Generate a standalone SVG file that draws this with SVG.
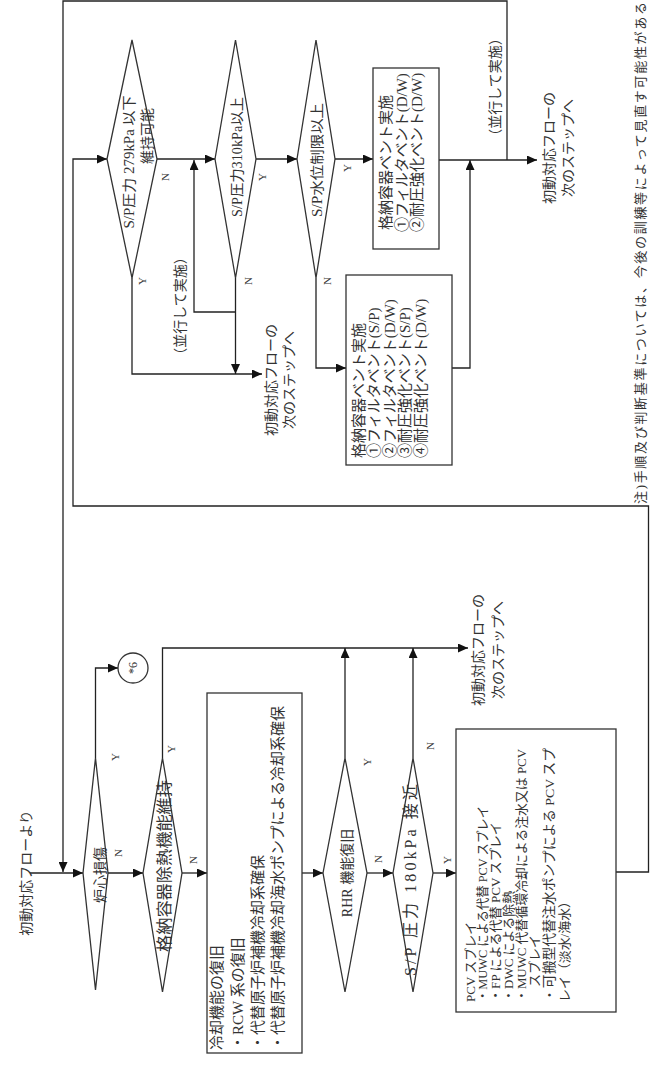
<svg xmlns="http://www.w3.org/2000/svg" width="651" height="1075" viewBox="0 0 651 1075">
<style>
.t{font-family:"Liberation Serif","Noto Sans CJK JP",serif;fill:#333;font-size:14px;dominant-baseline:central}
.m{text-anchor:middle}
.s{text-anchor:start}
.l{font-size:11px}
.b{font-size:15px}
.p{font-size:13px}
.shape{fill:#fff;stroke:#333;stroke-width:1.3}
.c{fill:none;stroke:#222;stroke-width:1.3}
</style>
<defs>
<marker id="a" markerUnits="userSpaceOnUse" markerWidth="11" markerHeight="9" refX="10" refY="4.5" orient="auto">
<path d="M0,0 L10,4.5 L0,9 z" fill="#111"/>
</marker>
</defs>
<rect width="651" height="1075" fill="#fff"/>

<g id="connectors">
<path class="c" d="M30,873 H83" marker-end="url(#a)"/>
<path class="c" d="M507,160 V1 H63 V872" marker-end="url(#a)"/>
<path class="c" d="M108,873 H143" marker-end="url(#a)"/>
<path class="c" d="M95.5,758 V668 H118" marker-end="url(#a)"/>
<path class="c" d="M162.5,758 V648 H468" marker-end="url(#a)"/>
<path class="c" d="M182,873 H207" marker-end="url(#a)"/>
<path class="c" d="M302,873 H323" marker-end="url(#a)"/>
<path class="c" d="M345,758 V648" marker-end="url(#a)"/>
<path class="c" d="M367,873 H393" marker-end="url(#a)"/>
<path class="c" d="M413,758 V648" marker-end="url(#a)"/>
<path class="c" d="M433,873 H456" marker-end="url(#a)"/>
<path class="c" d="M616,872 H648.5 V506 H73 V159 H107" marker-end="url(#a)"/>
<path class="c" d="M157,159 H215" marker-end="url(#a)"/>
<path class="c" d="M132,278 V374 H262" marker-end="url(#a)"/>
<path class="c" d="M235.5,278 V374" marker-end="url(#a)"/>
<path class="c" d="M235.5,312 H194 V160" marker-end="url(#a)"/>
<path class="c" d="M256,159 H297" marker-end="url(#a)"/>
<path class="c" d="M335,159 H373" marker-end="url(#a)"/>
<path class="c" d="M316,278 V368 H346" marker-end="url(#a)"/>
<path class="c" d="M452,368 H470 V160" marker-end="url(#a)"/>
<path class="c" d="M439,160 H537" marker-end="url(#a)"/>
</g>

<g id="start-label">
<text class="t m" x="26" y="873" transform="rotate(-90 26 873)">初動対応フローより</text>
</g>

<g id="core-damage">
<polygon class="shape" points="83,873 95.5,758 108,873 95.5,990"/>
<text class="t m" x="100" y="875" transform="rotate(-90 100 875)">炉心損傷</text>
<text class="t m l" x="115" y="757" transform="rotate(-90 115 757)">Y</text>
<text class="t m l" x="118" y="853" transform="rotate(-90 118 853)">N</text>
</g>

<g id="ref6">
<circle class="shape" cx="133" cy="668" r="15"/>
<text class="t m" style="font-size:12px" x="133" y="668" transform="rotate(-90 133 668)">*6</text>
</g>

<g id="pcv-heat-removal">
<polygon class="shape" points="143,873 162.5,758 182,873 162.5,992"/>
<text class="t m" style="font-size:16px" x="164" y="866" textLength="172" lengthAdjust="spacingAndGlyphs" transform="rotate(-90 164 866)">格納容器除熱機能維持</text>
<text class="t m l" x="171" y="749" transform="rotate(-90 171 749)">Y</text>
<text class="t m l" x="193" y="860" transform="rotate(-90 193 860)">N</text>
</g>

<g id="next-step-lower">
<text class="t m" x="478" y="650" transform="rotate(-90 478 650)">初動対応フローの</text>
<text class="t m" x="498" y="650" transform="rotate(-90 498 650)">次のステップへ</text>
</g>

<g id="cooling-recovery">
<rect class="shape" x="207" y="693" width="95" height="360"/>
<text class="t s b" x="217" y="1050" transform="rotate(-90 217 1050)">冷却機能の復旧</text>
<text class="t s b" x="238" y="1050" transform="rotate(-90 238 1050)">・RCW 系の復旧</text>
<text class="t s b" x="258" y="1050" transform="rotate(-90 258 1050)">・代替原子炉補機冷却系確保</text>
<text class="t s b" x="278" y="1050" transform="rotate(-90 278 1050)">・代替原子炉補機冷却海水ポンプによる冷却系確保</text>
</g>

<g id="rhr">
<polygon class="shape" points="323,873 345,758 367,873 345,992"/>
<text class="t m" x="347" y="873" transform="rotate(-90 347 873)">RHR 機能復旧</text>
<text class="t m l" x="367" y="762" transform="rotate(-90 367 762)">Y</text>
<text class="t m l" x="378" y="859" transform="rotate(-90 378 859)">N</text>
</g>

<g id="sp180">
<polygon class="shape" points="393,873 413,758 433,873 413,992"/>
<text class="t m" style="font-size:16px" x="410" y="880" textLength="192" lengthAdjust="spacing" transform="rotate(-90 410 880)">S/P 圧力 180kPa 接近</text>
<text class="t m l" x="430" y="746" transform="rotate(-90 430 746)">N</text>
<text class="t m l" x="447" y="860" transform="rotate(-90 447 860)">Y</text>
</g>

<g id="pcv-spray">
<rect class="shape" x="456" y="729" width="160" height="283"/>
<text class="t s p" x="470" y="1002" transform="rotate(-90 470 1002)">PCV スプレイ</text>
<text class="t s p" x="482" y="1002" textLength="196" lengthAdjust="spacingAndGlyphs" transform="rotate(-90 482 1002)">・MUWC による代替 PCV スプレイ</text>
<text class="t s p" x="495" y="1002" textLength="180" lengthAdjust="spacingAndGlyphs" transform="rotate(-90 495 1002)">・FP による代替 PCV スプレイ</text>
<text class="t s p" x="508" y="1002" transform="rotate(-90 508 1002)">・DWC による除熱</text>
<text class="t s p" x="521" y="1002" textLength="253" lengthAdjust="spacingAndGlyphs" transform="rotate(-90 521 1002)">・MUWC 代替循環冷却による注水又は PCV</text>
<text class="t s p" x="534" y="987" transform="rotate(-90 534 987)">スプレイ</text>
<text class="t s" style="font-size:13.5px" x="549" y="1002" textLength="254" lengthAdjust="spacingAndGlyphs" transform="rotate(-90 549 1002)">・可搬型代替注水ポンプによる PCV スプ</text>
<text class="t s p" x="564" y="1002" textLength="107" lengthAdjust="spacingAndGlyphs" transform="rotate(-90 564 1002)">レイ（淡水/海水）</text>
</g>

<g id="sp279">
<polygon class="shape" points="107,159 132,40 157,159 132,278"/>
<text class="t m" x="129" y="162" textLength="133" lengthAdjust="spacingAndGlyphs" transform="rotate(-90 129 162)">S/P圧力 279kPa 以下</text>
<text class="t m" x="147" y="136" transform="rotate(-90 147 136)">維持可能</text>
<text class="t m l" x="165" y="177" transform="rotate(-90 165 177)">N</text>
<text class="t m l" x="142" y="281" transform="rotate(-90 142 281)">Y</text>
</g>

<g id="parallel-lower">
<text class="t m" x="180" y="306" transform="rotate(-90 180 306)">（並行して実施）</text>
</g>

<g id="sp310">
<polygon class="shape" points="215,159 235.5,40 256,159 235.5,278"/>
<text class="t m" x="237" y="157" textLength="120" lengthAdjust="spacingAndGlyphs" transform="rotate(-90 237 157)">S/P圧力310kPa以上</text>
<text class="t m l" x="262" y="177" transform="rotate(-90 262 177)">Y</text>
<text class="t m l" x="248" y="281" transform="rotate(-90 248 281)">N</text>
</g>

<g id="next-step-mid">
<text class="t m" x="271" y="380" transform="rotate(-90 271 380)">初動対応フローの</text>
<text class="t m" x="289" y="380" transform="rotate(-90 289 380)">次のステップへ</text>
</g>

<g id="sp-level">
<polygon class="shape" points="297,159 316,40 335,159 316,278"/>
<text class="t m" x="317" y="160" textLength="114" lengthAdjust="spacingAndGlyphs" transform="rotate(-90 317 160)">S/P水位制限以上</text>
<text class="t m l" x="347" y="168" transform="rotate(-90 347 168)">Y</text>
<text class="t m l" x="327" y="281" transform="rotate(-90 327 281)">N</text>
</g>

<g id="vent-dw">
<rect class="shape" x="373" y="68" width="66" height="181"/>
<text class="t s b" x="386" y="230" transform="rotate(-90 386 230)">格納容器ベント実施</text>
<text class="t s b" x="402" y="232" transform="rotate(-90 402 232)">①フィルタベント(D/W)</text>
<text class="t s b" x="417" y="232" transform="rotate(-90 417 232)">②耐圧強化ベント(D/W)</text>
</g>

<g id="vent-all">
<rect class="shape" x="346" y="275" width="106" height="190"/>
<text class="t s b" x="359" y="458" transform="rotate(-90 359 458)">格納容器ベント実施</text>
<text class="t s b" x="374" y="458" transform="rotate(-90 374 458)">①フィルタベント(S/P)</text>
<text class="t s b" x="390" y="458" transform="rotate(-90 390 458)">②フィルタベント(D/W)</text>
<text class="t s b" x="405" y="458" transform="rotate(-90 405 458)">③耐圧強化ベント(S/P)</text>
<text class="t s b" x="421" y="458" transform="rotate(-90 421 458)">④耐圧強化ベント(D/W)</text>
</g>

<g id="parallel-upper">
<text class="t m" x="495" y="87" transform="rotate(-90 495 87)">（並行して実施）</text>
</g>

<g id="next-step-upper">
<text class="t m" x="549" y="148" transform="rotate(-90 549 148)">初動対応フローの</text>
<text class="t m" x="568" y="148" transform="rotate(-90 568 148)">次のステップへ</text>
</g>

<g id="note">
<text class="t s" style="font-size:13px" x="640" y="504" textLength="502" lengthAdjust="spacing" transform="rotate(-90 640 504)">注)手順及び判断基準については、今後の訓練等によって見直す可能性がある</text>
</g>
</svg>
